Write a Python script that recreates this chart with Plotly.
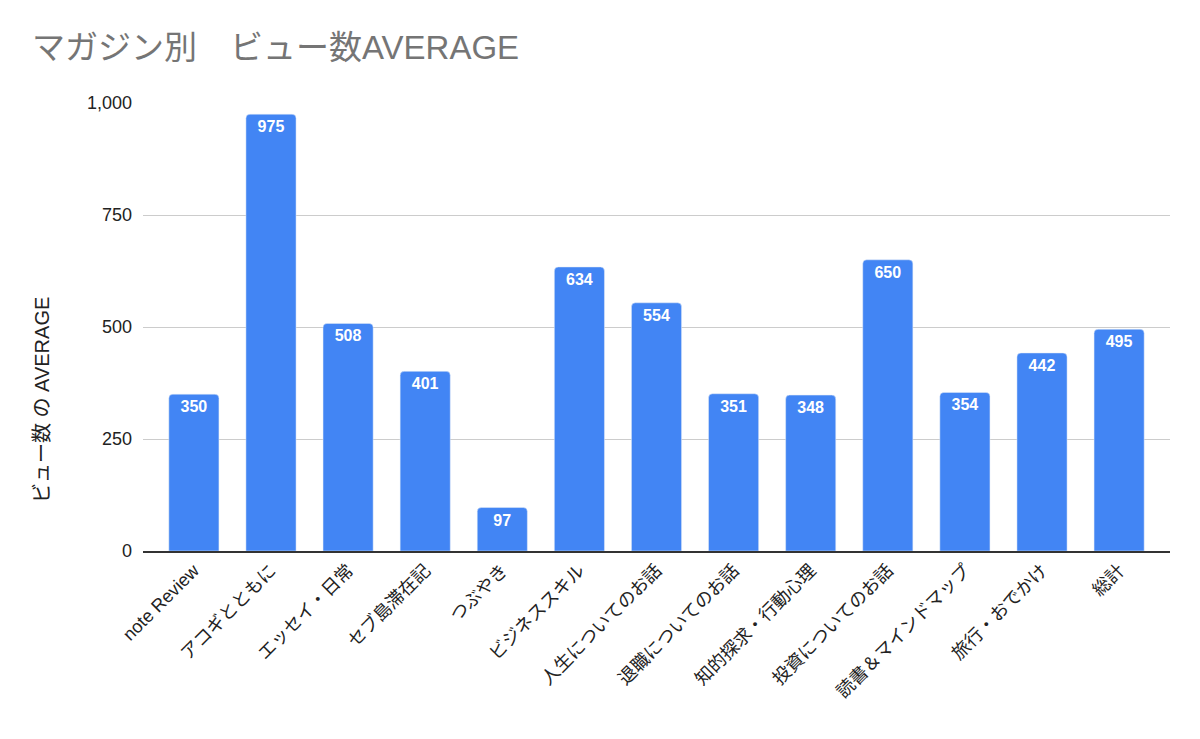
import plotly.graph_objects as go

categories = [
    "note Review", "アコギとともに", "エッセイ・日常", "セブ島滞在記", "つぶやき",
    "ビジネススキル", "人生についてのお話", "退職についてのお話", "知的探求・行動心理",
    "投資についてのお話", "読書＆マインドマップ", "旅行・おでかけ", "総計",
]
averages = [350, 975, 508, 401, 97, 634, 554, 351, 348, 650, 354, 442, 495]
y_ticks = [0, 250, 500, 750, 1000]

font_family = "Liberation Sans, Arial, Noto Sans CJK JP, sans-serif"

fig = go.Figure()
fig.add_trace(go.Bar(
    x=categories,
    y=averages,
    width=0.65,
    marker=dict(color="#4285F4", cornerradius=4),
    text=averages,
    textposition="inside",
    insidetextanchor="end",
    textangle=0,
    textfont=dict(color="white", size=16, family=font_family, weight="bold"),
    cliponaxis=False,
))

# the page sits 8px in from the window edge, so margins are shifted by that amount
fig.update_layout(
    width=1200, height=739,
    margin=dict(l=135, r=38, t=95, b=196),
    paper_bgcolor="white",
    plot_bgcolor="white",
    font=dict(family=font_family, color="#222222", size=18),
    title=dict(
        text="マガジン別　ビュー数AVERAGE",
        x=0.02, xanchor="left", y=0.946, yanchor="middle",
        font=dict(size=33, color="#757575", family=font_family),
    ),
    showlegend=False,
)
fig.update_xaxes(
    range=[-0.66, 12.66],
    tickangle=-45,
    tickfont=dict(size=18, color="#222222"),
    showgrid=False,
    showline=True, linecolor="#333333", linewidth=1.5,
    ticks="",
)
fig.update_yaxes(
    range=[0, 1000],
    tickvals=y_ticks,
    tickformat=",",
    tickfont=dict(size=18, color="#222222"),
    showgrid=True, gridcolor="#cccccc", gridwidth=1,
    zeroline=False,
    ticks="", ticklabelstandoff=10,
)

# y-axis title sits below the plot centre in the original, so place it by hand
fig.add_annotation(
    text="ビュー数 の AVERAGE",
    xref="paper", yref="paper", x=0, y=0.337,
    xanchor="center", yanchor="middle", xshift=-101,
    textangle=-90, showarrow=False,
    font=dict(size=20, color="#222222"),
)

fig.write_html("out.html")
